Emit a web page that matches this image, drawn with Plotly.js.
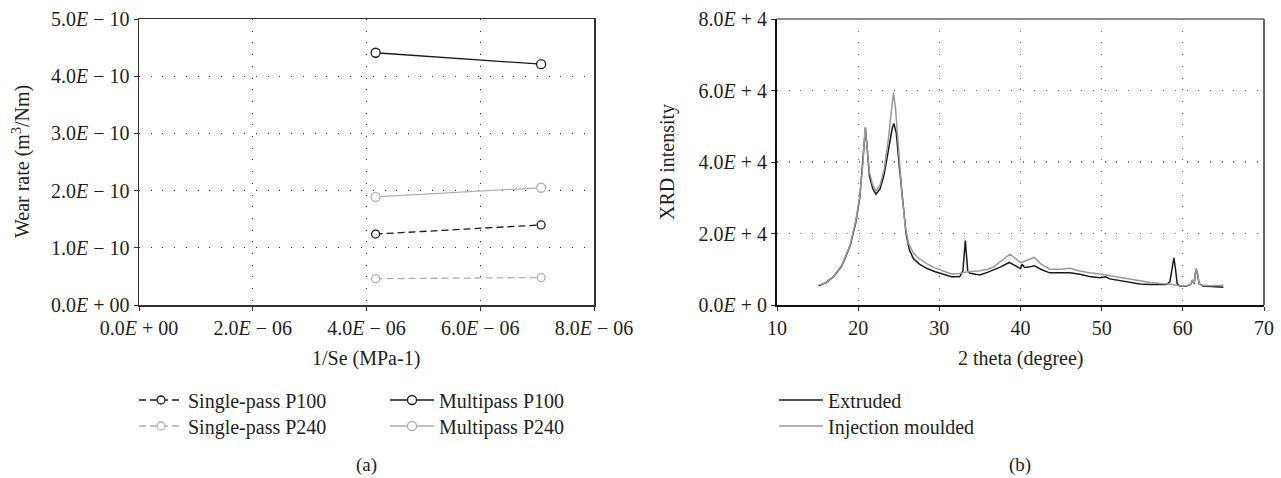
<!DOCTYPE html>
<html>
<head>
<meta charset="utf-8">
<script src="https://cdn.plot.ly/plotly-3.0.1.min.js"></script>
<style>
html,body{margin:0;padding:0;background:#fff;}
#chart{width:1281px;height:478px;}
</style>
</head>
<body>
<div id="chart"></div>
<script>
// ---- Panel (a): wear rate vs 1/Se ----
var invSe = [4.16e-6, 7.07e-6];
var singleP100 = [1.24e-10, 1.40e-10];
var singleP240 = [0.46e-10, 0.48e-10];
var multiP100 = [4.41e-10, 4.21e-10];
var multiP240 = [1.89e-10, 2.05e-10];
var aXTicks = [0, 2e-6, 4e-6, 6e-6, 8e-6];
var aXTickText = ["0.0<i>E</i> + 00", "2.0<i>E</i> − 06", "4.0<i>E</i> − 06", "6.0<i>E</i> − 06", "8.0<i>E</i> − 06"];
var aYTicks = [0, 1e-10, 2e-10, 3e-10, 4e-10, 5e-10];
var aYTickText = ["0.0<i>E</i> + 00", "1.0<i>E</i> − 10", "2.0<i>E</i> − 10", "3.0<i>E</i> − 10", "4.0<i>E</i> − 10", "5.0<i>E</i> − 10"];

// ---- Panel (b): XRD patterns ----
var extrudedTheta = [15.1,16,17,18,19,19.7,20.2,20.6,20.9,21.1,21.4,21.8,22.2,22.7,23.2,23.7,24.2,24.4,24.7,25.1,25.5,25.9,26.3,26.8,27.5,28.5,29.5,30.5,31.5,32.5,32.9,33.2,33.5,33.8,35.0,36.0,36.7,37.5,38.6,39.4,40.0,40.2,40.5,41.0,41.7,42.5,43.6,45.0,46.1,47.3,48.5,49.8,50.5,51.0,52.3,53.5,54.7,56.0,57.2,58.0,58.4,58.7,58.9,59.1,59.3,59.6,60.5,61.0,61.2,61.4,61.6,61.75,62.0,62.5,63.5,65.0];
var extrudedI = [5400,6200,8000,11000,16500,23000,30000,40000,49500,44000,36000,32500,31000,32500,36500,43000,49500,50800,48000,38000,28000,20000,15500,13000,11500,10200,9300,8500,7900,7900,9500,18000,9500,8860,8400,9200,9800,10600,11900,11000,10200,11400,10500,10600,11000,10000,9000,9000,9000,8600,8000,7600,7900,7300,6800,6300,5900,5700,5600,5700,6500,10000,13200,10000,6000,5300,5300,5800,7000,6000,9800,9500,6000,5300,5100,5000];
var mouldedTheta = [15.1,16,17,18,19,19.7,20.2,20.6,20.85,21.1,21.4,21.8,22.2,22.7,23.2,23.7,24.1,24.35,24.6,25.0,25.4,25.8,26.2,26.8,27.5,28.5,29.5,30.5,31.5,32.5,33.5,35.0,36.0,36.7,37.5,38.7,39.5,40.0,40.8,41.7,42.5,43.6,45.0,46.1,47.3,48.5,49.8,51.0,52.3,53.5,54.7,56.0,57.2,58.5,59.6,60.5,61.0,61.2,61.4,61.65,61.85,62.0,62.5,63.5,65.0];
var mouldedI = [5500,6300,8100,11200,16800,23500,30500,40000,49800,44500,37000,33500,32000,33500,38000,46000,54000,59500,55000,43000,31000,22000,17300,14500,13000,11500,10300,9500,8700,8800,9300,9600,10000,10700,12000,14200,12800,11800,12500,13300,11500,10000,10000,10300,9500,9000,8700,8200,7750,7200,6700,6300,6000,5800,5400,5400,5800,7000,6200,10300,8500,5900,5500,5400,5500];
var bXTicks = [10,20,30,40,50,60,70];
var bYTicks = [0, 20000, 40000, 60000, 80000];
var bYTickText = ["0.0<i>E</i> + 0", "2.0<i>E</i> + 4", "4.0<i>E</i> + 4", "6.0<i>E</i> + 4", "8.0<i>E</i> + 4"];

var W = 1281, H = 478;
var FONT = "'Liberation Serif', 'DejaVu Serif', serif";
var TXT = "#231f20";
var BLACK = "#1a1a1a", GREY = "#b0b0b0";
function px(x){return x/W;}
function py(y){return 1 - y/H;}

var traces = [
  {x: invSe, y: singleP100, name: "Single-pass P100", mode: "lines+markers", xaxis: "x", yaxis: "y", legend: "legend",
   line: {color: BLACK, width: 1.3, dash: "7px,4px"}, marker: {symbol: "circle", size: 8, color: "#fff", line: {color: BLACK, width: 1.3}}},
  {x: invSe, y: singleP240, name: "Single-pass P240", mode: "lines+markers", xaxis: "x", yaxis: "y", legend: "legend2",
   line: {color: GREY, width: 1.3, dash: "7px,4px"}, marker: {symbol: "circle", size: 8, color: "#fff", line: {color: GREY, width: 1.3}}},
  {x: invSe, y: multiP100, name: "Multipass P100", mode: "lines+markers", xaxis: "x", yaxis: "y", legend: "legend3",
   line: {color: BLACK, width: 1.3}, marker: {symbol: "circle", size: 9, color: "#fff", line: {color: BLACK, width: 1.3}}},
  {x: invSe, y: multiP240, name: "Multipass P240", mode: "lines+markers", xaxis: "x", yaxis: "y", legend: "legend4",
   line: {color: GREY, width: 1.3}, marker: {symbol: "circle", size: 9, color: "#fff", line: {color: GREY, width: 1.3}}},
  {x: extrudedTheta, y: extrudedI, name: "Extruded", mode: "lines", xaxis: "x2", yaxis: "y2", legend: "legend5",
   line: {color: BLACK, width: 1.5}},
  {x: mouldedTheta, y: mouldedI, name: "Injection moulded", mode: "lines", xaxis: "x2", yaxis: "y2", legend: "legend6",
   line: {color: "#9a9a9a", width: 1.5}}
];

var tickFont = {family: FONT, size: 20, color: TXT};
var gridCommon = {showgrid: true, griddash: "1px,10.7px", gridwidth: 1.2, zeroline: false, ticks: "outside", ticklen: 4, tickcolor: "#333", tickfont: tickFont};

var legCommon = {font: {family: FONT, size: 20, color: TXT}, bgcolor: "rgba(0,0,0,0)", borderwidth: 0, xanchor: "left", yanchor: "middle", itemwidth: 44};

var layout = {
  width: W, height: H,
  margin: {l: 0, r: 0, t: 0, b: 0},
  paper_bgcolor: "#fff", plot_bgcolor: "#fff",
  showlegend: true,
  xaxis: Object.assign({}, gridCommon, {domain: [px(139), px(594)], range: [0, 8e-6], tickvals: aXTicks, ticktext: aXTickText,
    showline: true, linecolor: "#333", linewidth: 1.5, mirror: true, anchor: "y", gridcolor: "#333"}),
  yaxis: Object.assign({}, gridCommon, {domain: [py(305), py(19)], range: [0, 5e-10], tickvals: aYTicks, ticktext: aYTickText,
    showline: true, linecolor: "#333", linewidth: 1.5, mirror: true, anchor: "x", gridcolor: "#333"}),
  xaxis2: Object.assign({}, gridCommon, {domain: [px(777), px(1264)], range: [10, 70], tickvals: bXTicks,
    showline: true, linecolor: "#111", linewidth: 2, anchor: "y2", gridcolor: "#777"}),
  yaxis2: Object.assign({}, gridCommon, {domain: [py(305), py(19)], range: [0, 80000], tickvals: bYTicks, ticktext: bYTickText,
    showline: true, linecolor: "#111", linewidth: 2, anchor: "x2", gridcolor: "#777"}),
  shapes: [
    {type: "line", xref: "x2 domain", yref: "y2 domain", x0: 0, x1: 1, y0: 1, y1: 1, line: {color: "#666", width: 1.5}},
    {type: "line", xref: "x2 domain", yref: "y2 domain", x0: 1, x1: 1, y0: 0, y1: 1, line: {color: "#666", width: 2}}
  ],
  legend: Object.assign({}, legCommon, {x: px(134), y: py(400)}),
  legend2: Object.assign({}, legCommon, {x: px(134), y: py(426)}),
  legend3: Object.assign({}, legCommon, {x: px(385), y: py(400)}),
  legend4: Object.assign({}, legCommon, {x: px(385), y: py(426)}),
  legend5: Object.assign({}, legCommon, {x: px(774), y: py(400)}),
  legend6: Object.assign({}, legCommon, {x: px(774), y: py(426)}),
  annotations: [
    {text: "Wear rate (m<sup>3</sup>/Nm)", xref: "paper", yref: "paper", x: px(22), y: py(162), textangle: -90, showarrow: false,
     font: {family: FONT, size: 20, color: TXT}, xanchor: "center", yanchor: "middle"},
    {text: "XRD intensity", xref: "paper", yref: "paper", x: px(668), y: py(162), textangle: -90, showarrow: false,
     font: {family: FONT, size: 20, color: TXT}, xanchor: "center", yanchor: "middle"},
    {text: "1/Se (MPa-1)", xref: "paper", yref: "paper", x: px(366), y: py(358), showarrow: false,
     font: {family: FONT, size: 20, color: TXT}, xanchor: "center", yanchor: "middle"},
    {text: "2 theta (degree)", xref: "paper", yref: "paper", x: px(1020), y: py(358), showarrow: false,
     font: {family: FONT, size: 20, color: TXT}, xanchor: "center", yanchor: "middle"},
    {text: "(a)", xref: "paper", yref: "paper", x: px(366), y: py(465), showarrow: false,
     font: {family: FONT, size: 19, color: TXT}, xanchor: "center", yanchor: "middle"},
    {text: "(b)", xref: "paper", yref: "paper", x: px(1020), y: py(465), showarrow: false,
     font: {family: FONT, size: 19, color: TXT}, xanchor: "center", yanchor: "middle"}
  ]
};

Plotly.newPlot("chart", traces, layout, {displayModeBar: false, staticPlot: true});
</script>
</body>
</html>
